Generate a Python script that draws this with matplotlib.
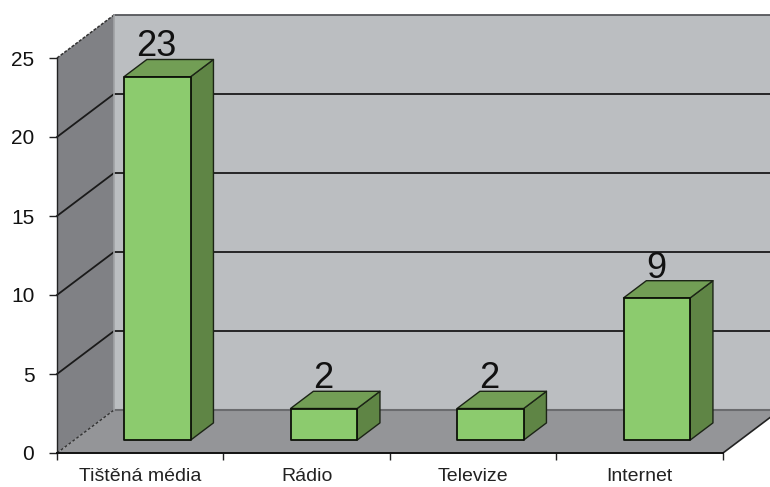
import matplotlib
matplotlib.use('Agg')
import matplotlib.pyplot as plt
from matplotlib.patches import Polygon

categories = ['Tištěná média', 'Rádio', 'Televize', 'Internet']
values = [23, 2, 2, 9]
yticks = [0, 5, 10, 15, 20, 25]

plt.rcParams['font.family'] = ['Liberation Sans', 'DejaVu Sans']

W, H = 770, 487
fig = plt.figure(figsize=(W / 100, H / 100), dpi=100)
ax = fig.add_axes([57 / W, (H - 453) / H, (723 - 57) / W, (453 - 58) / H])
ax.set_xlim(0, len(categories))
ax.set_ylim(0, yticks[-1])
ax.patch.set_visible(False)

# depth of the fake 3d box, in data units
depth_x = 57 / (666 / len(categories))
depth_y = 43 / (395 / yticks[-1])


def pt(x, y, d=0.0):
    return (x + d * depth_x, y + d * depth_y)


def face(points, color, edge='none', lw=0, z=1):
    ax.add_patch(Polygon(points, closed=True, facecolor=color, edgecolor=edge,
                         linewidth=lw, zorder=z, clip_on=False, joinstyle='round'))


n = len(categories)
top = yticks[-1]

# walls and floor
face([pt(0, 0, 1), pt(n, 0, 1), pt(n, top, 1), pt(0, top, 1)], '#bbbec1')
face([pt(0, 0), pt(0, 0, 1), pt(0, top, 1), pt(0, top)], '#808185')
face([pt(0, 0), pt(n, 0), pt(n, 0, 1), pt(0, 0, 1)], '#949598')

# grid on back wall and side wall
for v in yticks[1:-1]:
    p = [pt(0, v), pt(0, v, 1), pt(n, v, 1)]
    ax.plot([q[0] for q in p], [q[1] for q in p], color='#1a1a1a', lw=1.3, zorder=1.5, clip_on=False)

p = [pt(0, top), pt(0, top, 1), pt(n, top, 1)]
ax.plot([q[0] for q in p[1:]], [q[1] for q in p[1:]], color='#55565a', lw=1.3, zorder=1.5, clip_on=False)
ax.plot([q[0] for q in p[:2]], [q[1] for q in p[:2]], color='#333333', lw=1.1, ls=(0, (2, 1)), zorder=1.5, clip_on=False)
p = [pt(0, 0), pt(0, 0, 1)]
ax.plot([q[0] for q in p], [q[1] for q in p], color='#333333', lw=1.0, ls=(0, (2, 1.5)), zorder=1.5, clip_on=False)
p = [pt(0, 0, 1), pt(n, 0, 1)]
ax.plot([q[0] for q in p], [q[1] for q in p], color='#6a6b6e', lw=1.5, zorder=1.5, clip_on=False)
p = [pt(0, 0, 1), pt(0, top, 1)]
ax.plot([q[0] for q in p], [q[1] for q in p], color='#a0a2a5', lw=1.2, zorder=1.5, clip_on=False)
p = [pt(n, 0), pt(n, 0, 1)]
ax.plot([q[0] for q in p], [q[1] for q in p], color='#222222', lw=1.2, zorder=1.5, clip_on=False)

# bars
bar_w = 0.4
d0, d1 = 0.3, 0.7
for i, v in enumerate(values):
    x0 = i + 0.5 - bar_w / 2
    x1 = i + 0.5 + bar_w / 2
    face([pt(x1, 0, d0), pt(x1, 0, d1), pt(x1, v, d1), pt(x1, v, d0)], '#5f8545', '#1c2416', 1.0, 3)
    face([pt(x0, v, d0), pt(x1, v, d0), pt(x1, v, d1), pt(x0, v, d1)], '#729e55', '#1c2416', 1.0, 3)
    face([pt(x0, 0, d0), pt(x1, 0, d0), pt(x1, v, d0), pt(x0, v, d0)], '#8ccb6e', '#0d1208', 1.3, 4)
    lx, ly = pt(i + 0.5, v, d0)
    ax.annotate(str(v), (lx, ly), xytext=(-0.7, 14.6), textcoords='offset points',
                ha='center', va='baseline', fontsize=26, color='#111111',
                zorder=5, annotation_clip=False)

# axes
for s in ['top', 'right']:
    ax.spines[s].set_visible(False)
ax.spines['left'].set_linewidth(1.0)
ax.spines['left'].set_color('#222222')
ax.spines['bottom'].set_linewidth(1.4)
ax.spines['bottom'].set_color('#111111')

ax.set_yticks(yticks)
ax.set_yticklabels([str(v) for v in yticks], fontsize=15, color='#111111')
ax.tick_params(axis='y', length=5.8, width=1.0, pad=10.5, color='#222222')

ax.set_xticks(range(n + 1))
ax.set_xticklabels([''] * (n + 1))
ax.tick_params(axis='x', which='major', length=5, width=1.0, color='#222222')
ax.set_xticks([i + 0.5 for i in range(n)], minor=True)
ax.set_xticklabels(categories, minor=True, fontsize=14, color='#222222')
ax.tick_params(axis='x', which='minor', length=0, pad=11)

fig.savefig('out.png', dpi=100, facecolor='white')
